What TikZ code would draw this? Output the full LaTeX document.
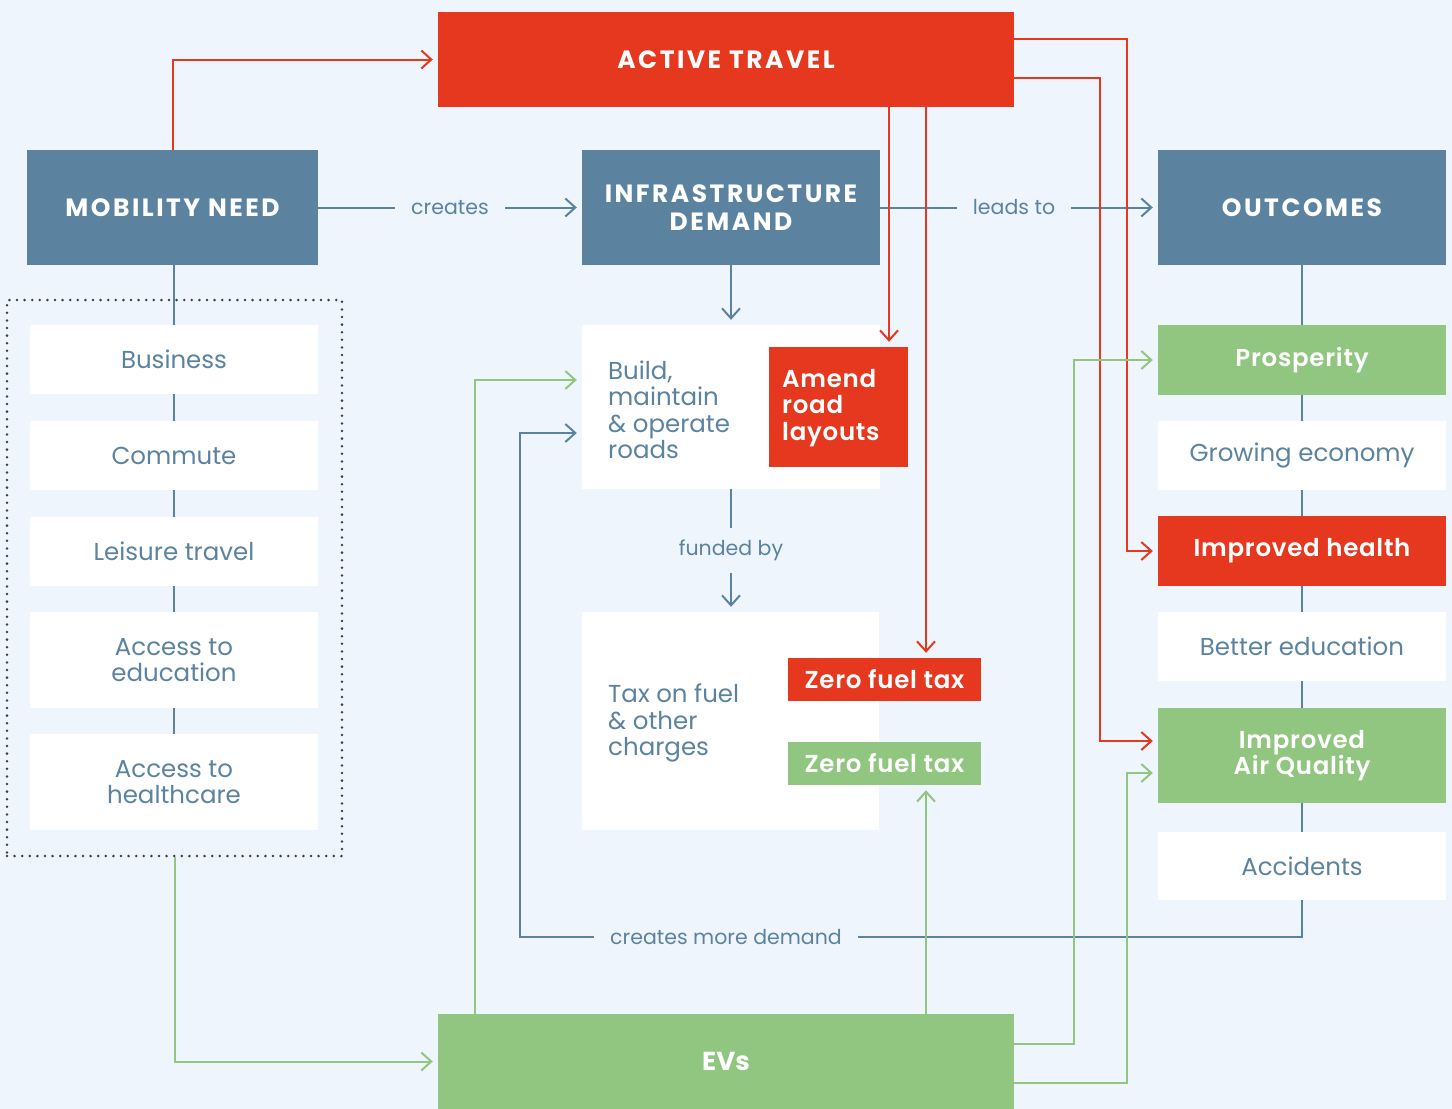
\documentclass[tikz,border=0pt]{standalone}
\usepackage{fontspec}
\setmainfont{Poppins}[BoldFont={Poppins SemiBold}]
\newfontfamily\poppinsHeavy{Poppins Bold}
\usetikzlibrary{arrows.meta,calc}
\definecolor{bg}{HTML}{EFF5FC}
\definecolor{cblue}{HTML}{5B83A0}
\definecolor{cred}{HTML}{E5381E}
\definecolor{cgreen}{HTML}{91C680}
\definecolor{cdot}{HTML}{3A3F45}
\newcommand\myBig{\fontsize{24.5}{26.5}\selectfont}
\newcommand\myBold{\fontsize{24.5}{26.5}\selectfont\bfseries\addfontfeature{LetterSpace=3}}
\newcommand\myCap{\poppinsHeavy\fontsize{25}{28}\selectfont\addfontfeature{LetterSpace=10}}
\newcommand\mySmall{\fontsize{20.5}{23}\selectfont}
\begin{document}
\begin{tikzpicture}[x=1pt,y=-1pt,
 box/.style={rectangle, inner sep=0pt, align=center},
 headbox/.style={box, fill=cblue, text=white, font=\myCap},
 wbox/.style={box, fill=white, text=cblue, font=\myBig},
 rbox/.style={box, fill=cred, text=white, font=\myBold},
 gbox/.style={box, fill=cgreen, text=white, font=\myBold},
 colw/.style={minimum width=288pt},
 conn/.style={line width=2pt},
 bl/.style={conn, draw=cblue},
 rl/.style={conn, draw=cred},
 gl/.style={conn, draw=cgreen},
 arr/.style={-{Straight Barb[length=10pt,width=18pt,line width=2pt]}, shorten >=5pt},
 lbl/.style={fill=bg, text=cblue, font=\mySmall, inner xsep=16pt, inner ysep=4pt},
]
\fill[bg] (0,0) rectangle (1452,1109);
\useasboundingbox (0,0) rectangle (1452,1109);

% header boxes
\node[headbox, minimum width=576pt, minimum height=95pt, fill=cred] (active) at (726,59.5) {ACTIVE TRAVEL};
\node[headbox, minimum width=291pt, minimum height=115pt] (mob) at (172.5,207.5) {MOBILITY NEED};
\node[headbox, minimum width=298pt, minimum height=115pt] (infra) at (731,207.5) {INFRASTRUCTURE\\DEMAND};
\node[headbox, minimum width=288pt, minimum height=115pt] (outc) at (1302,207.5) {OUTCOMES};

% mobility group
\node[box, draw=cdot, line width=2.8pt, dash pattern=on 0pt off 7.6pt, line cap=round, minimum width=335pt, minimum height=556pt] (grp) at (174.5,578) {};
\node[wbox, colw, minimum height=69pt] (bus) at (174,359.5) {Business};
\node[wbox, colw, minimum height=69pt] (com) at (174,455.5) {Commute};
\node[wbox, colw, minimum height=69pt] (lei) at (174,551.5) {Leisure travel};
\node[wbox, colw, minimum height=96pt] (aedu) at (174,660) {Access to\\education};
\node[wbox, colw, minimum height=96pt] (ahea) at (174,782) {Access to\\healthcare};

% middle column
\node[box, fill=white, minimum width=298pt, minimum height=164pt] (build) at (731,407) {};
\node[wbox, align=left, anchor=west, fill=none] (buildt) at (608,410) {Build,\\maintain\\\& operate\\roads};
\node[rbox, minimum width=139pt, minimum height=120pt] (amend) at (838.5,407) {};
\node[rbox, align=left, anchor=west, fill=none] (amendt) at (782,408) {Amend\\road\\layouts};
\node[box, fill=white, minimum width=297pt, minimum height=218pt] (tax) at (730.5,721) {};
\node[wbox, align=left, anchor=west, fill=none] (taxt) at (608,723) {Tax on fuel\\\& other\\charges};
\node[rbox, minimum width=193pt, minimum height=43pt] (zfr) at (884.5,679.5) {Zero fuel tax};
\node[gbox, minimum width=193pt, minimum height=43pt] (zfg) at (884.5,763.5) {Zero fuel tax};

% outcomes column
\node[gbox, colw, minimum height=70pt] (pros) at (1302,360) {Prosperity};
\node[wbox, colw, minimum height=69pt] (grow) at (1302,455.5) {Growing economy};
\node[rbox, colw, minimum height=70pt] (health) at (1302,551) {Improved health};
\node[wbox, colw, minimum height=69pt] (bedu) at (1302,646.5) {Better education};
\node[gbox, colw, minimum height=95pt] (air) at (1302,755.5) {Improved\\Air Quality};
\node[wbox, colw, minimum height=68pt] (acc) at (1302,866) {Accidents};

% EVs
\node[gbox, minimum width=576pt, minimum height=95pt, font=\poppinsHeavy\fontsize{26}{30}\selectfont] (evs) at (726,1061.5) {EVs};

% helper coordinates
\coordinate (x889) at (889,0);
\coordinate (x926) at (926,0);
\coordinate (r1) at (1127,39);
\coordinate (r2) at (1100,78);
\coordinate (g1) at (475,0);
\coordinate (g3) at (1074,1044);
\coordinate (g4) at (1127,1083);
\coordinate (d1) at (520,937);
\coordinate (aq1) at ([yshift=14.5pt]air.west);
\coordinate (aq2) at ([yshift=-17.5pt]air.west);
\coordinate (bw1) at ([yshift=27pt]build.west);
\coordinate (bw2) at ([yshift=-26pt]build.west);

% blue connectors
\draw[bl,arr] (mob) -- node[lbl] {creates} (infra);
\draw[bl,arr] (infra) -- node[lbl, xshift=-5pt] {leads to} (outc);
\draw[bl,arr] (infra.south) -- (infra.south |- build.north);
\draw[bl,arr] (build.south) -- node[lbl, inner ysep=12pt] {funded by} (build.south |- tax.north);
\draw[bl] (bus.north |- mob.south) -- (bus.north);
\draw[bl] (bus) -- (com);
\draw[bl] (com) -- (lei);
\draw[bl] (lei) -- (aedu);
\draw[bl] (aedu) -- (ahea);
\draw[bl] (outc) -- (pros);
\draw[bl] (pros) -- (grow);
\draw[bl] (grow) -- (health);
\draw[bl] (health) -- (bedu);
\draw[bl] (bedu) -- (air);
\draw[bl] (air) -- (acc);
\draw[bl,arr] (acc.south) |- (d1) |- (bw2);
\node[lbl] (cmd) at (726,937) {creates more demand};

% red connectors
\draw[rl,arr] (mob.north) |- (active.west);
\draw[rl,arr] (active.south -| x889) -- (amend.north -| x889);
\draw[rl,arr] (active.south -| x926) -- (zfr.north -| x926);
\draw[rl,arr] (active.east |- r1) -| (r1 |- health.west) -- (health.west);
\draw[rl,arr] (active.east |- r2) -| (r2 |- aq1) -- (aq1);

% green connectors
\draw[gl,arr] (grp.south) |- (evs.west);
\draw[gl,arr] (evs.north -| g1) |- (bw1);
\draw[gl,arr] (evs.north -| x926) -- (zfg.south -| x926);
\draw[gl,arr] (evs.east |- g3) -| (g3 |- pros.west) -- (pros.west);
\draw[gl,arr] (evs.east |- g4) -| (g4 |- aq2) -- (aq2);
\end{tikzpicture}
\end{document}
